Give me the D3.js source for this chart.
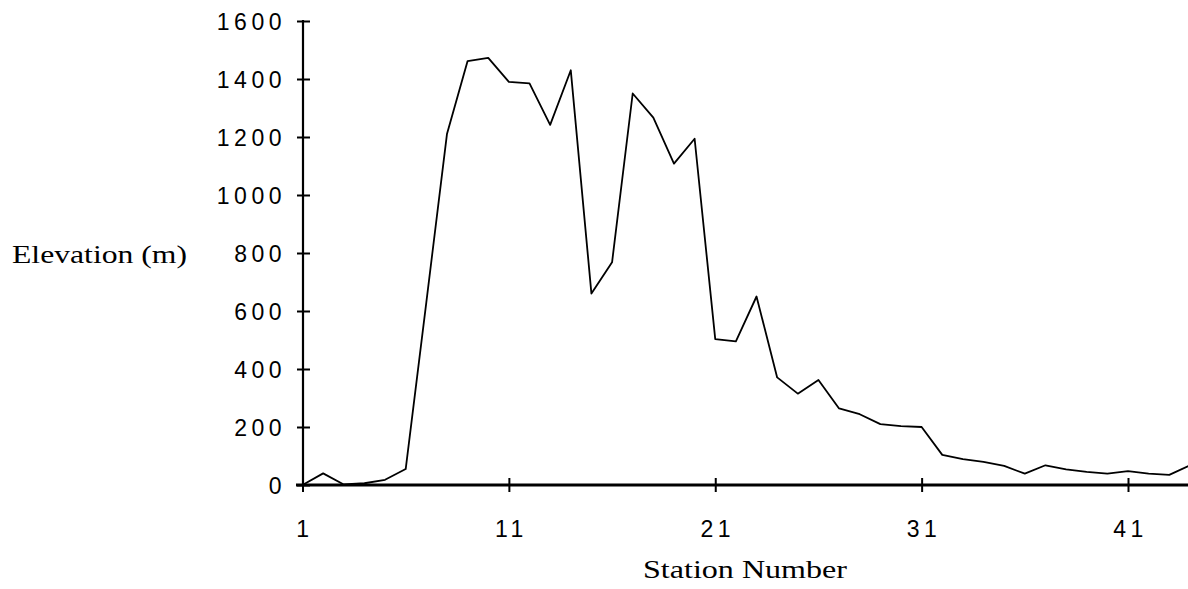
<!DOCTYPE html>
<html>
<head>
<meta charset="utf-8">
<script src="https://cdn.jsdelivr.net/npm/d3@7"></script>
<style>
  body { margin: 0; background: #fff; }
</style>
</head>
<body>
<div id="chart"></div>
<script>
// station numbers 1..44 and elevation
var stations = d3.range(1, 45);
var elevation = [0, 40, 2, 6, 18, 55, 630, 1210, 1462, 1473,
                 1390, 1385, 1242, 1430, 660, 768, 1350, 1267, 1108, 1194,
                 503, 495, 650, 371, 315, 362, 264, 244, 210, 203,
                 200, 104, 89, 80, 66, 39, 68, 54, 45, 39,
                 48, 39, 35, 68];
var xTicks = [1, 11, 21, 31, 41];
var yTicks = [0, 200, 400, 600, 800, 1000, 1200, 1400, 1600];

const chart_width = 1188;
const chart_height = 589;

var svg = d3.select('#chart')
    .append('svg')
    .attr('width', chart_width)
    .attr('height', chart_height);

var x = d3.scaleLinear().domain([1, 41]).range([302.5, 1128]);
var y = d3.scaleLinear().domain([0, 1600]).range([485, 21]);

var tickFont = '"Liberation Sans", Arial, sans-serif';

// y axis
var yAxis = svg.append('g')
    .attr('transform', 'translate(303,0)')
    .call(d3.axisLeft(y).tickValues(yTicks).tickFormat(d3.format('d')).tickSize(6).tickSizeOuter(0));
yAxis.select('.domain').attr('stroke-width', 2.2).attr('d', 'M0,' + (y(1600) - 1) + 'V' + y(0));
yAxis.selectAll('.tick line').attr('x1', -6).attr('x2', 7).attr('stroke-width', 2);
yAxis.selectAll('.tick text')
    .attr('x', -17)
    .attr('dy', '0.36em')
    .attr('font-family', tickFont)
    .attr('font-size', 23)
    .attr('letter-spacing', 4.5)
    .attr('fill', '#000');

// x axis
var xAxis = svg.append('g')
    .attr('transform', 'translate(0,485)')
    .call(d3.axisBottom(x).tickValues(xTicks).tickFormat(d3.format('d')).tickSize(6).tickSizeOuter(0));
xAxis.select('.domain').attr('stroke-width', 2.8).attr('d', 'M296,0H' + chart_width);
xAxis.selectAll('.tick line').attr('y1', -7).attr('y2', 7).attr('stroke-width', 2);
xAxis.selectAll('.tick text')
    .attr('y', 36)
    .attr('dx', 2)
    .attr('font-family', tickFont)
    .attr('font-size', 23)
    .attr('letter-spacing', 4.5)
    .attr('fill', '#000');
svg.selectAll('.tick text').attr('font-size', 23);

// elevation profile
var line = d3.line()
    .x((d, i) => x(stations[i]))
    .y(d => y(d));

svg.append('path')
    .datum(elevation)
    .attr('d', line)
    .attr('fill', 'none')
    .attr('stroke', '#000')
    .attr('stroke-width', 1.8)
    .attr('stroke-linejoin', 'round');

// axis titles
svg.append('text')
    .text('Elevation (m)')
    .attr('x', 12)
    .attr('y', 263)
    .attr('font-family', '"Liberation Serif", "Times New Roman", serif')
    .attr('font-size', 26)
    .attr('textLength', 175)
    .attr('lengthAdjust', 'spacingAndGlyphs');

svg.append('text')
    .text('Station Number')
    .attr('x', 643)
    .attr('y', 578)
    .attr('font-family', '"Liberation Serif", "Times New Roman", serif')
    .attr('font-size', 26)
    .attr('textLength', 204)
    .attr('lengthAdjust', 'spacingAndGlyphs');
</script>
</body>
</html>
